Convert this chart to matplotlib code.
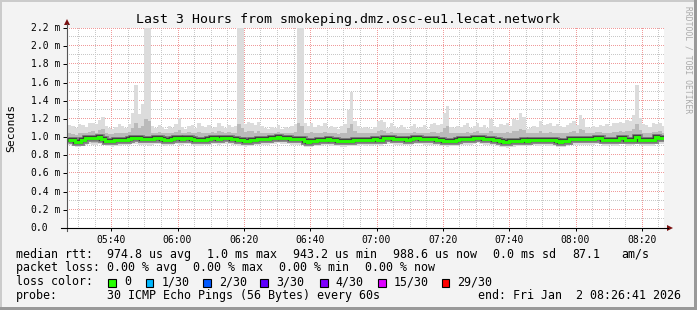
import numpy as np
import matplotlib
matplotlib.use('Agg')
import matplotlib.pyplot as plt
from matplotlib.patches import Rectangle, Polygon
from matplotlib.lines import Line2D
from matplotlib.colors import to_rgba
import matplotlib.transforms as mtransforms

W, H = 697, 310

# ---------------- data (ms), one value per minute starting 05:27 ----------------
median_rtt = [
    0.965, 0.965, 0.943, 0.945, 0.970, 0.985, 0.990, 0.985, 0.987, 1.000,
    0.975, 0.960, 0.955, 0.955, 0.965, 0.970, 0.970, 0.970, 0.975, 0.995,
    0.990, 0.985, 0.980, 0.978, 0.980, 0.975, 0.985, 0.985, 0.980, 0.970,
    0.972, 0.975, 0.985, 0.985, 0.980, 0.985, 0.990, 0.975, 0.970, 0.970,
    0.968, 0.972, 0.980, 0.985, 0.985, 0.980, 0.985, 0.990, 0.985, 0.978,
    0.975, 0.968, 0.968, 0.960, 0.962, 0.965, 0.970, 0.975, 0.978, 0.976,
    0.980, 0.985, 0.990, 0.998, 0.995, 0.990, 0.985, 0.980, 0.978, 0.976,
    0.975, 0.955, 0.950, 0.955, 0.962, 0.970, 0.968, 0.972, 0.975, 0.970,
    0.965, 0.960, 0.955, 0.958, 0.960, 0.962, 0.965, 0.968, 0.970, 0.968,
    0.972, 0.970, 0.975, 0.972, 0.970, 0.990, 0.992, 0.985, 0.975, 0.976,
    0.978, 0.975, 0.972, 0.978, 0.985, 0.988, 0.984, 0.976, 0.975, 0.978,
    0.975, 0.972, 0.970, 0.960, 0.958, 0.962, 0.960, 0.965, 0.975, 0.976,
    0.978, 0.980, 0.990, 0.995, 0.990, 0.978, 0.975, 0.976, 0.972, 0.970,
    0.952, 0.950, 0.948, 0.955, 0.958, 0.962, 0.960, 0.965, 0.962, 0.968,
    0.970, 0.965, 0.968, 0.970, 0.966, 0.968, 0.965, 0.952, 0.950, 0.955,
    0.958, 0.975, 0.976, 0.978, 0.975, 0.977, 0.976, 0.978, 0.980, 0.990,
    0.994, 0.970, 0.968, 0.972, 0.968, 0.970, 0.985, 0.987, 0.970, 0.968,
    0.972, 1.000, 0.972, 0.968, 0.970, 0.968, 0.970, 0.998, 0.995, 0.985,
]
max_rtt = [
    1.13, 1.12, 1.10, 1.14, 1.13, 1.11, 1.15, 1.16, 1.14, 1.19,
    1.22, 1.12, 1.10, 1.09, 1.11, 1.14, 1.12, 1.10, 1.14, 1.26,
    1.57, 1.25, 1.36, 2.30, 2.30, 1.12, 1.10, 1.13, 1.11, 1.09,
    1.12, 1.10, 1.14, 1.21, 1.11, 1.09, 1.12, 1.13, 1.10, 1.15,
    1.12, 1.11, 1.13, 1.10, 1.11, 1.15, 1.12, 1.10, 1.13, 1.11,
    1.12, 2.30, 2.30, 1.14, 1.17, 1.16, 1.13, 1.17, 1.12, 1.10,
    1.09, 1.11, 1.10, 1.13, 1.09, 1.11, 1.10, 1.12, 1.14, 2.30,
    2.30, 1.16, 1.12, 1.15, 1.11, 1.13, 1.12, 1.16, 1.10, 1.12,
    1.11, 1.09, 1.12, 1.14, 1.30, 1.50, 1.18, 1.12, 1.10, 1.11,
    1.10, 1.09, 1.11, 1.18, 1.19, 1.17, 1.10, 1.16, 1.12, 1.10,
    1.13, 1.11, 1.09, 1.12, 1.14, 1.10, 1.11, 1.13, 1.09, 1.14,
    1.15, 1.13, 1.14, 1.27, 1.34, 1.11, 1.10, 1.12, 1.11, 1.13,
    1.15, 1.10, 1.12, 1.16, 1.11, 1.13, 1.10, 1.20, 1.12, 1.11,
    1.14, 1.13, 1.15, 1.12, 1.20, 1.19, 1.26, 1.22, 1.09, 1.10,
    1.12, 1.11, 1.18, 1.13, 1.14, 1.16, 1.12, 1.14, 1.12, 1.11,
    1.13, 1.15, 1.18, 1.13, 1.24, 1.20, 1.11, 1.10, 1.12, 1.11,
    1.13, 1.12, 1.14, 1.12, 1.16, 1.15, 1.17, 1.15, 1.19, 1.18,
    1.24, 1.57, 1.21, 1.14, 1.13, 1.11, 1.15, 1.14, 1.16, 1.12,
]
upper_rtt = [
    1.04, 1.03, 1.02, 1.05, 1.04, 1.05, 1.06, 1.07, 1.05, 1.08,
    1.09, 1.04, 1.03, 1.03, 1.04, 1.05, 1.05, 1.04, 1.06, 1.10,
    1.15, 1.10, 1.12, 1.20, 1.18, 1.05, 1.05, 1.06, 1.05, 1.04,
    1.05, 1.04, 1.06, 1.08, 1.05, 1.05, 1.06, 1.05, 1.04, 1.06,
    1.05, 1.04, 1.05, 1.06, 1.05, 1.07, 1.06, 1.05, 1.06, 1.05,
    1.05, 1.14, 1.10, 1.06, 1.07, 1.07, 1.05, 1.07, 1.05, 1.04,
    1.04, 1.05, 1.05, 1.06, 1.05, 1.05, 1.04, 1.05, 1.06, 1.16,
    1.12, 1.05, 1.04, 1.06, 1.05, 1.05, 1.04, 1.06, 1.04, 1.05,
    1.04, 1.03, 1.04, 1.05, 1.10, 1.14, 1.07, 1.05, 1.04, 1.05,
    1.04, 1.04, 1.05, 1.07, 1.08, 1.07, 1.05, 1.06, 1.05, 1.04,
    1.05, 1.04, 1.04, 1.05, 1.06, 1.05, 1.05, 1.05, 1.04, 1.06,
    1.06, 1.05, 1.06, 1.10, 1.12, 1.05, 1.04, 1.05, 1.04, 1.05,
    1.06, 1.04, 1.06, 1.07, 1.05, 1.05, 1.04, 1.07, 1.05, 1.04,
    1.05, 1.05, 1.06, 1.04, 1.07, 1.07, 1.09, 1.08, 1.04, 1.04,
    1.05, 1.04, 1.07, 1.05, 1.05, 1.06, 1.05, 1.05, 1.04, 1.04,
    1.05, 1.06, 1.07, 1.05, 1.09, 1.08, 1.05, 1.04, 1.05, 1.06,
    1.06, 1.05, 1.05, 1.04, 1.06, 1.06, 1.07, 1.06, 1.07, 1.07,
    1.09, 1.14, 1.08, 1.05, 1.05, 1.04, 1.06, 1.06, 1.07, 1.05,
]
lower_rtt = [
    0.93, 0.92, 0.91, 0.91, 0.93, 0.94, 0.95, 0.94, 0.94, 0.95,
    0.94, 0.93, 0.92, 0.92, 0.93, 0.93, 0.94, 0.94, 0.94, 0.95,
    0.95, 0.94, 0.94, 0.94, 0.94, 0.94, 0.95, 0.95, 0.94, 0.93,
    0.94, 0.94, 0.95, 0.94, 0.94, 0.95, 0.95, 0.94, 0.93, 0.93,
    0.93, 0.94, 0.94, 0.95, 0.95, 0.94, 0.95, 0.95, 0.95, 0.94,
    0.94, 0.93, 0.93, 0.92, 0.93, 0.93, 0.94, 0.94, 0.94, 0.94,
    0.94, 0.95, 0.95, 0.96, 0.95, 0.95, 0.95, 0.94, 0.94, 0.94,
    0.94, 0.92, 0.92, 0.92, 0.93, 0.93, 0.93, 0.94, 0.94, 0.93,
    0.93, 0.93, 0.92, 0.92, 0.93, 0.93, 0.93, 0.93, 0.94, 0.93,
    0.94, 0.93, 0.94, 0.94, 0.93, 0.95, 0.95, 0.95, 0.94, 0.94,
    0.94, 0.94, 0.94, 0.94, 0.95, 0.95, 0.95, 0.94, 0.94, 0.94,
    0.94, 0.94, 0.93, 0.93, 0.92, 0.93, 0.93, 0.93, 0.94, 0.94,
    0.94, 0.94, 0.95, 0.96, 0.95, 0.94, 0.94, 0.94, 0.94, 0.93,
    0.92, 0.92, 0.91, 0.92, 0.92, 0.93, 0.93, 0.93, 0.93, 0.93,
    0.94, 0.93, 0.93, 0.94, 0.93, 0.93, 0.93, 0.92, 0.92, 0.92,
    0.93, 0.94, 0.94, 0.94, 0.94, 0.94, 0.94, 0.94, 0.94, 0.95,
    0.95, 0.93, 0.93, 0.94, 0.93, 0.93, 0.95, 0.95, 0.93, 0.93,
    0.94, 0.96, 0.94, 0.93, 0.93, 0.93, 0.93, 0.96, 0.95, 0.95,
]
min_rtt = [
    0.91, 0.90, 0.89, 0.89, 0.90, 0.91, 0.92, 0.91, 0.91, 0.92,
    0.91, 0.90, 0.90, 0.89, 0.90, 0.90, 0.91, 0.91, 0.91, 0.92,
    0.92, 0.91, 0.91, 0.91, 0.90, 0.91, 0.92, 0.92, 0.91, 0.90,
    0.91, 0.91, 0.92, 0.91, 0.91, 0.92, 0.92, 0.91, 0.90, 0.90,
    0.90, 0.91, 0.91, 0.92, 0.92, 0.91, 0.92, 0.92, 0.92, 0.91,
    0.91, 0.90, 0.90, 0.89, 0.90, 0.90, 0.91, 0.91, 0.91, 0.91,
    0.91, 0.92, 0.92, 0.93, 0.92, 0.92, 0.92, 0.91, 0.91, 0.91,
    0.91, 0.89, 0.89, 0.89, 0.90, 0.90, 0.90, 0.91, 0.91, 0.90,
    0.90, 0.90, 0.89, 0.89, 0.90, 0.90, 0.90, 0.90, 0.91, 0.90,
    0.91, 0.90, 0.91, 0.91, 0.90, 0.92, 0.92, 0.92, 0.91, 0.91,
    0.91, 0.91, 0.91, 0.91, 0.92, 0.92, 0.92, 0.91, 0.91, 0.91,
    0.91, 0.91, 0.90, 0.90, 0.89, 0.90, 0.90, 0.90, 0.91, 0.91,
    0.91, 0.91, 0.92, 0.93, 0.92, 0.91, 0.91, 0.91, 0.91, 0.90,
    0.89, 0.89, 0.88, 0.89, 0.89, 0.90, 0.90, 0.90, 0.90, 0.90,
    0.91, 0.90, 0.90, 0.91, 0.90, 0.90, 0.90, 0.89, 0.89, 0.89,
    0.90, 0.91, 0.91, 0.91, 0.91, 0.91, 0.91, 0.91, 0.91, 0.92,
    0.92, 0.90, 0.90, 0.91, 0.90, 0.90, 0.92, 0.92, 0.90, 0.90,
    0.91, 0.93, 0.91, 0.90, 0.90, 0.90, 0.90, 0.93, 0.92, 0.92,
]

first_minute = 5 * 60 + 27                      # 05:27
view_start = 5 * 60 + 26 + 41 / 60              # 05:26:41
view_end = 8 * 60 + 26 + 41 / 60                # 08:26:41
x_tick_minutes = [340, 360, 380, 400, 420, 440, 460, 480, 500]
x_tick_labels = ['05:40', '06:00', '06:20', '06:40', '07:00', '07:20', '07:40', '08:00', '08:20']
y_tick_values = [0.0, 0.2, 0.4, 0.6, 0.8, 1.0, 1.2, 1.4, 1.6, 1.8, 2.0, 2.2]
y_tick_labels = ['0.0', '0.2 m', '0.4 m', '0.6 m', '0.8 m', '1.0 m', '1.2 m', '1.4 m',
                 '1.6 m', '1.8 m', '2.0 m', '2.2 m']
title = 'Last 3 Hours from smokeping.dmz.osc-eu1.lecat.network'
loss_labels = ['0', '1/30', '2/30', '3/30', '4/30', '15/30', '29/30']
loss_colors = ['#26ff00', '#00b8ff', '#0059ff', '#5e00ff', '#7e00ff', '#dd00ff', '#ff0000']

# ---------------- figure ----------------
MONO = 'DejaVu Sans Mono'
plt.rcParams['font.family'] = [MONO]

fig = plt.figure(figsize=(W / 100, H / 100), dpi=100, facecolor='#f3f3f3')


def fx(x):
    return x / W


def fy(y):
    return 1 - y / H


# border shading
fig.add_artist(Rectangle((fx(0), fy(2)), 1, 2 / H, transform=fig.transFigure, facecolor='#cbcbcb', edgecolor='none'))
fig.add_artist(Rectangle((fx(0), 0), 2 / W, 1, transform=fig.transFigure, facecolor='#cbcbcb', edgecolor='none'))
fig.add_artist(Rectangle((fx(0), 0), 1, 3 / H, transform=fig.transFigure, facecolor='#999999', edgecolor='none'))
fig.add_artist(Rectangle((fx(W - 3), 0), 3 / W, 1, transform=fig.transFigure, facecolor='#999999', edgecolor='none'))

AX_L, AX_R, AX_T, AX_B = 67, 664, 28, 228
ax = fig.add_axes([fx(AX_L), fy(AX_B), fx(AX_R) - fx(AX_L), fy(AX_T) - fy(AX_B)])
ax.set_facecolor('white')
ax.set_xlim(view_start, view_end)
ax.set_ylim(0, 2.2)
for s in ax.spines.values():
    s.set_visible(False)

edges = first_minute + np.arange(len(median_rtt) + 1)

# dotted grid rendered as a pixel raster (1 px on / 1 px off)
gw, gh = AX_R - AX_L, AX_B - AX_T
grid_img = np.zeros((gh, gw, 4))
c_minor = to_rgba('#c8c8c8')
c_major = to_rgba('#f09a9a')
for major_pass in (False, True):
    col_c = c_major if major_pass else c_minor
    for m in range(330, 507, 5):
        if (m in x_tick_minutes) != major_pass:
            continue
        c = int(round((m - view_start) / (view_end - view_start) * gw))
        if 0 <= c < gw:
            grid_img[::2, c] = col_c
    for k in range(1, 23):
        if (k % 2 == 0) != major_pass:
            continue
        r = min(max(gh - 1 - int(round(k / 10 / 2.2 * gh)), 0), gh - 1)
        grid_img[r, ::2] = col_c
ax.imshow(grid_img, extent=(view_start, view_end, 0, 2.2), aspect='auto',
          interpolation='nearest', zorder=1, origin='upper')
ax.set_xlim(view_start, view_end)
ax.set_ylim(0, 2.2)

# smoke
ax.stairs(max_rtt, edges, baseline=min_rtt, fill=True, color='#dcdcdc', lw=0, zorder=2)
ax.stairs(upper_rtt, edges, baseline=lower_rtt, fill=True, color='#bababa', lw=0, zorder=3)
ax.stairs(median_rtt, edges, baseline=None, color='#8a8a8a', lw=5.0, zorder=4)
ax.stairs(median_rtt, edges, baseline=None, color='#404040', lw=3.2, zorder=5)
ax.stairs(median_rtt, edges, baseline=None, color=loss_colors[0], lw=2.1, zorder=6)

ax.set_xticks(x_tick_minutes)
ax.set_xticklabels(x_tick_labels, fontsize=7, family=MONO)
ax.set_yticks(y_tick_values)
ax.set_yticklabels([])
ax.tick_params(axis='x', which='major', length=2.5, width=0.72, color='#000000', pad=2.2)
ax.tick_params(axis='y', which='major', length=2.8, width=0.72, color='#000000', pad=1)

# y tick labels, left aligned like rrdtool
ytrans = mtransforms.blended_transform_factory(fig.transFigure, ax.transData)
for v, lab in zip(y_tick_values, y_tick_labels):
    fig.text(fx(30.5), v, lab, transform=ytrans, ha='left', va='center', fontsize=7, family=MONO)

# axes lines and arrows
fig.add_artist(Line2D([fx(67), fx(67)], [fy(231), fy(24)], transform=fig.transFigure, color='#555555', lw=0.8))
fig.add_artist(Line2D([fx(61), fx(668)], [fy(228), fy(228)], transform=fig.transFigure, color='#000000', lw=0.8))
fig.add_artist(Polygon([[fx(64), fy(25)], [fx(70), fy(25)], [fx(67), fy(19)]], closed=True,
                       transform=fig.transFigure, facecolor='#7a1010', edgecolor='none'))
fig.add_artist(Polygon([[fx(667), fy(225)], [fx(667), fy(231)], [fx(673), fy(228)]], closed=True,
                       transform=fig.transFigure, facecolor='#7a1010', edgecolor='none'))

# texts
fig.text(fx(348), fy(20), title, ha='center', va='center', fontsize=9.5, family=MONO)
fig.text(fx(11), fy(127.5), 'Seconds', rotation=90, ha='center', va='center', fontsize=8.2, family=MONO)
fig.text(fx(688), fy(60), 'RRDTOOL / TOBI OETIKER', rotation=270, ha='center', va='center',
         fontsize=5.8, color='#aaaaaa', family=MONO)

FS = 8.4
rows = [257.6, 271.4, 285.4, 299.3]
line1 = [(16, 'median rtt:'), (107.3, '974.8 us avg'), (207.3, '1.0 ms max'), (293.3, '943.2 us min'),
         (393.3, '988.6 us now'), (493.3, '0.0 ms sd'), (572.7, '87.1'), (621.7, 'am/s')]
line2 = [(16, 'packet loss:'), (107.3, '0.00 % avg'), (193.3, '0.00 % max'), (279.3, '0.00 % min'),
         (365, '0.00 % now')]
for x, t in line1:
    fig.text(fx(x), fy(rows[0]), t, ha='left', va='baseline', fontsize=FS, family=MONO)
for x, t in line2:
    fig.text(fx(x), fy(rows[1]), t, ha='left', va='baseline', fontsize=FS, family=MONO)
fig.text(fx(16), fy(rows[2]), 'loss color:', ha='left', va='baseline', fontsize=FS, family=MONO)
box_x = [108.3, 145.7, 203.3, 260.3, 320.0, 378.3, 441.7]
for bx, lab, col in zip(box_x, loss_labels, loss_colors):
    fig.add_artist(Rectangle((fx(bx), fy(286.5)), 7.5 / W, 8 / H, transform=fig.transFigure,
                             facecolor=col, edgecolor='black', lw=0.8))
    fig.text(fx(bx + 15.5), fy(rows[2]), lab, ha='left', va='baseline', fontsize=FS, family=MONO)
fig.text(fx(16), fy(rows[3]), 'probe:', ha='left', va='baseline', fontsize=FS, family=MONO)
fig.text(fx(107.3), fy(rows[3]), '30 ICMP Echo Pings (56 Bytes) every 60s', ha='left', va='baseline',
         fontsize=FS, family=MONO)
fig.text(fx(478.3), fy(rows[3]), 'end: Fri Jan  2 08:26:41 2026', ha='left', va='baseline',
         fontsize=FS, family=MONO)

fig.savefig('out.png', dpi=100, facecolor=fig.get_facecolor())
